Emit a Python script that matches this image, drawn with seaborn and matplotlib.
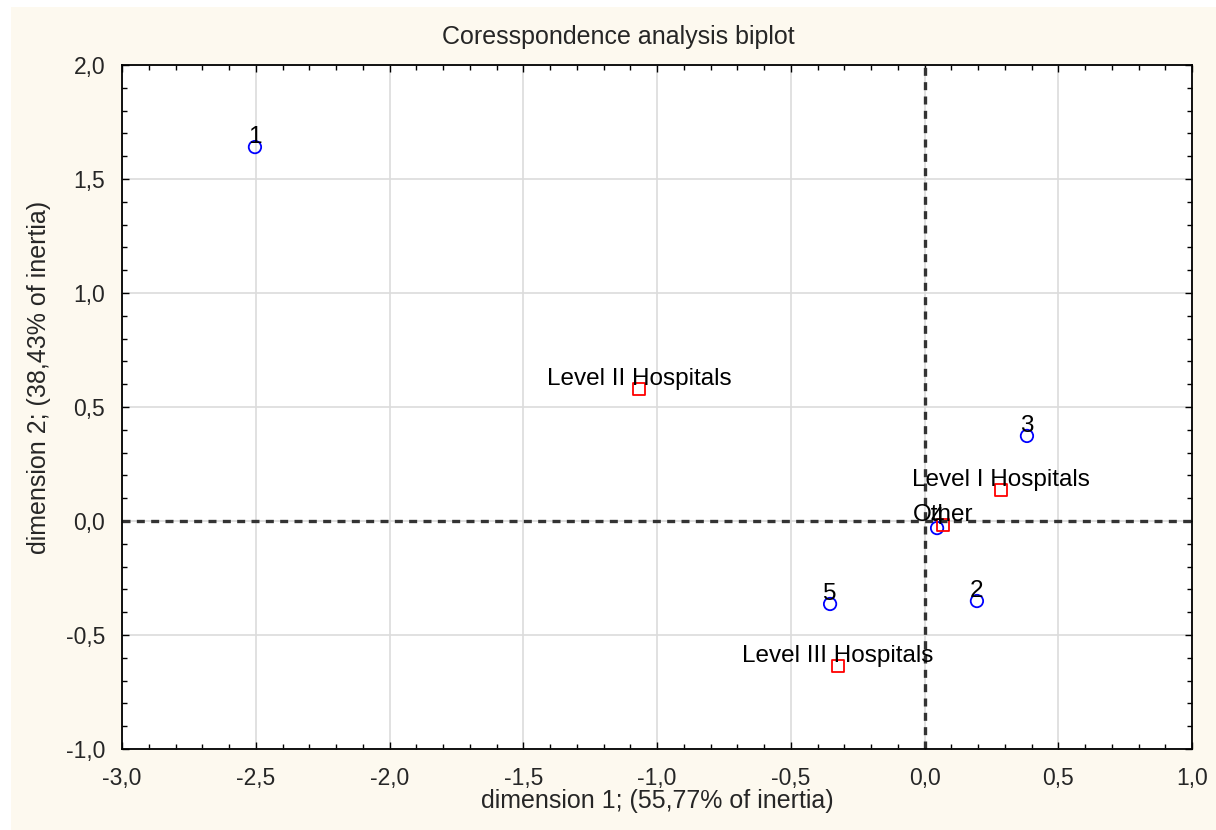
import matplotlib
matplotlib.use("Agg")
import matplotlib.pyplot as plt
from matplotlib.patches import Rectangle
from matplotlib.ticker import MultipleLocator, FixedLocator, FixedFormatter
import seaborn as sns
import pandas as pd

# ---- data ----
row_labels = ["1", "2", "3", "4", "5"]
row_dim1 = [-2.503, 0.196, 0.383, 0.047, -0.353]
row_dim2 = [1.640, -0.351, 0.373, -0.031, -0.364]

col_labels = ["Level I Hospitals", "Level II Hospitals", "Level III Hospitals", "Other"]
col_dim1 = [0.286, -1.067, -0.323, 0.069]
col_dim2 = [0.136, 0.579, -0.636, -0.018]

x_ticks = [-3.0, -2.5, -2.0, -1.5, -1.0, -0.5, 0.0, 0.5, 1.0]
x_tick_labels = ["-3,0", "-2,5", "-2,0", "-1,5", "-1,0", "-0,5", "0,0", "0,5", "1,0"]
y_ticks = [-1.0, -0.5, 0.0, 0.5, 1.0, 1.5, 2.0]
y_tick_labels = ["-1,0", "-0,5", "0,0", "0,5", "1,0", "1,5", "2,0"]

title = "Coresspondence analysis biplot"
x_label = "dimension 1; (55,77% of inertia)"
y_label = "dimension 2; (38,43% of inertia)"

rows = pd.DataFrame({"dim1": row_dim1, "dim2": row_dim2, "label": row_labels})
cols = pd.DataFrame({"dim1": col_dim1, "dim2": col_dim2, "label": col_labels})

# ---- style ----
sns.set_style("white")
plt.rcParams["font.family"] = ["Liberation Sans", "DejaVu Sans"]

W, H = 1216, 830
cream = "#FDF9EF"
fig = plt.figure(figsize=(W / 100, H / 100), dpi=100)
fig.patch.set_facecolor(cream)
# thin white margins at top and left, as in the reference
fig.patches.append(Rectangle((0, 1 - 7 / H), 1, 7 / H, transform=fig.transFigure,
                             facecolor="white", edgecolor="none", linewidth=0, zorder=-10))
fig.patches.append(Rectangle((0, 0), 11 / W, 1, transform=fig.transFigure,
                             facecolor="white", edgecolor="none", linewidth=0, zorder=-10))

ax = fig.add_axes([122 / W, 1 - 749 / H, (1192 - 122) / W, (749 - 65) / H])
ax.set_facecolor("white")

ax.set_xlim(-3.0, 1.0)
ax.set_ylim(-1.0, 2.0)

ax.xaxis.set_major_locator(FixedLocator(x_ticks))
ax.xaxis.set_major_formatter(FixedFormatter(x_tick_labels))
ax.yaxis.set_major_locator(FixedLocator(y_ticks))
ax.yaxis.set_major_formatter(FixedFormatter(y_tick_labels))
ax.xaxis.set_minor_locator(MultipleLocator(0.1))
ax.yaxis.set_minor_locator(MultipleLocator(0.1))
ax.grid(True, which="major", color="#DCDCDC", linewidth=1.2, zorder=0)
ax.set_axisbelow(True)

# reference lines
ax.axhline(0, color="#333333", linewidth=2.4, linestyle=(0, (2.4, 1.9)), zorder=1)
ax.axvline(0, color="#333333", linewidth=2.4, linestyle=(0, (2.4, 1.9)), zorder=1)

# points
sns.scatterplot(data=rows, x="dim1", y="dim2", ax=ax, marker="o", s=80,
                color="blue", facecolor="none", edgecolor="blue",
                linewidth=1.3, zorder=3, legend=False)
sns.scatterplot(data=cols, x="dim1", y="dim2", ax=ax, marker="s", s=80,
                color="red", facecolor="none", edgecolor="red",
                linewidth=1.3, zorder=3, legend=False)

for _, r in pd.concat([rows, cols]).iterrows():
    ax.annotate(r["label"], (r["dim1"], r["dim2"]), xytext=(0, 4),
                textcoords="offset pixels", ha="center", va="baseline",
                fontsize=17.5, color="black", zorder=4)

ax.set_xlabel("")
ax.set_ylabel("")

for s in ax.spines.values():
    s.set_color("black")
    s.set_linewidth(1.3)
    s.set_visible(True)

ax.tick_params(which="both", direction="in", top=True, right=True,
               bottom=True, left=True, color="black")
ax.tick_params(which="major", length=5, width=1.0, labelsize=16.5)
ax.tick_params(which="minor", length=3.5, width=1.0)
ax.tick_params(axis="x", which="major", pad=13)
ax.tick_params(axis="y", which="major", pad=12)

fig.text(618 / W, 1 - 37 / H, title, ha="center", va="center", fontsize=18)
fig.text(657 / W, 1 - 801 / H, x_label, ha="center", va="center", fontsize=18)
fig.text(39 / W, 1 - 377 / H, y_label, ha="center", va="center",
         rotation=90, fontsize=18)

fig.savefig("out.png", dpi=100, facecolor=fig.get_facecolor())
